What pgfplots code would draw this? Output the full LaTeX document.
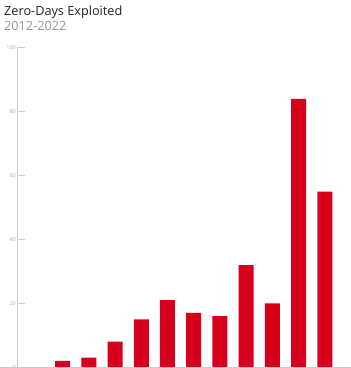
\documentclass[border=0pt]{standalone}
\usepackage{fontspec}
\setmainfont{Open Sans}
\usepackage{pgfplots}
\pgfplotsset{compat=1.18}
\definecolor{barred}{RGB}{214,0,28}
\definecolor{axgray}{RGB}{205,205,205}
\definecolor{ticklab}{RGB}{175,175,175}
\definecolor{subgray}{RGB}{150,150,150}
\definecolor{titlec}{RGB}{35,35,35}
\begin{document}
\begin{tikzpicture}
\begin{axis}[
  at={(0,0)}, anchor=south west,
  scale only axis,
  width=334pt, height=319.6pt,
  xmin=-1.74, xmax=11.0,
  ymin=0, ymax=100,
  axis x line=none,
  axis y line*=left,
  y axis line style={axgray, line width=0.8pt, -},
  ytick={0,20,40,60,80,100},
  ytick align=inside,
  major tick length=8pt,
  ytick style={axgray, line width=0.6pt},
  yticklabel style={font=\fontsize{5.5}{6.5}\selectfont, text=ticklab, inner sep=1pt},
  /pgf/number format/assume math mode=true,
  xtick=\empty,
  clip=false,
]
\addplot[ybar, bar width=15pt, fill=barred, draw=none] coordinates {
(0,2) (1,3) (2,8) (3,15) (4,21) (5,17) (6,16) (7,32) (8,20) (9,84) (10,55)
};
\draw[axgray, line width=0.8pt] ([xshift=-17pt]rel axis cs:0,0) -- (rel axis cs:1,0);
\end{axis}
\node[anchor=base west, inner sep=0pt, text=titlec, font=\fontsize{12.7}{14}\selectfont] at (-13pt,352.3pt) {Zero-Days Exploited};
\node[anchor=base west, inner sep=0pt, text=subgray, font=\fontsize{12.7}{14}\selectfont] at (-13pt,336.6pt) {2012-2022};
\pgfresetboundingbox
\useasboundingbox (-17pt,-0.7pt) rectangle (334pt,367.3pt);
\end{tikzpicture}
\end{document}
